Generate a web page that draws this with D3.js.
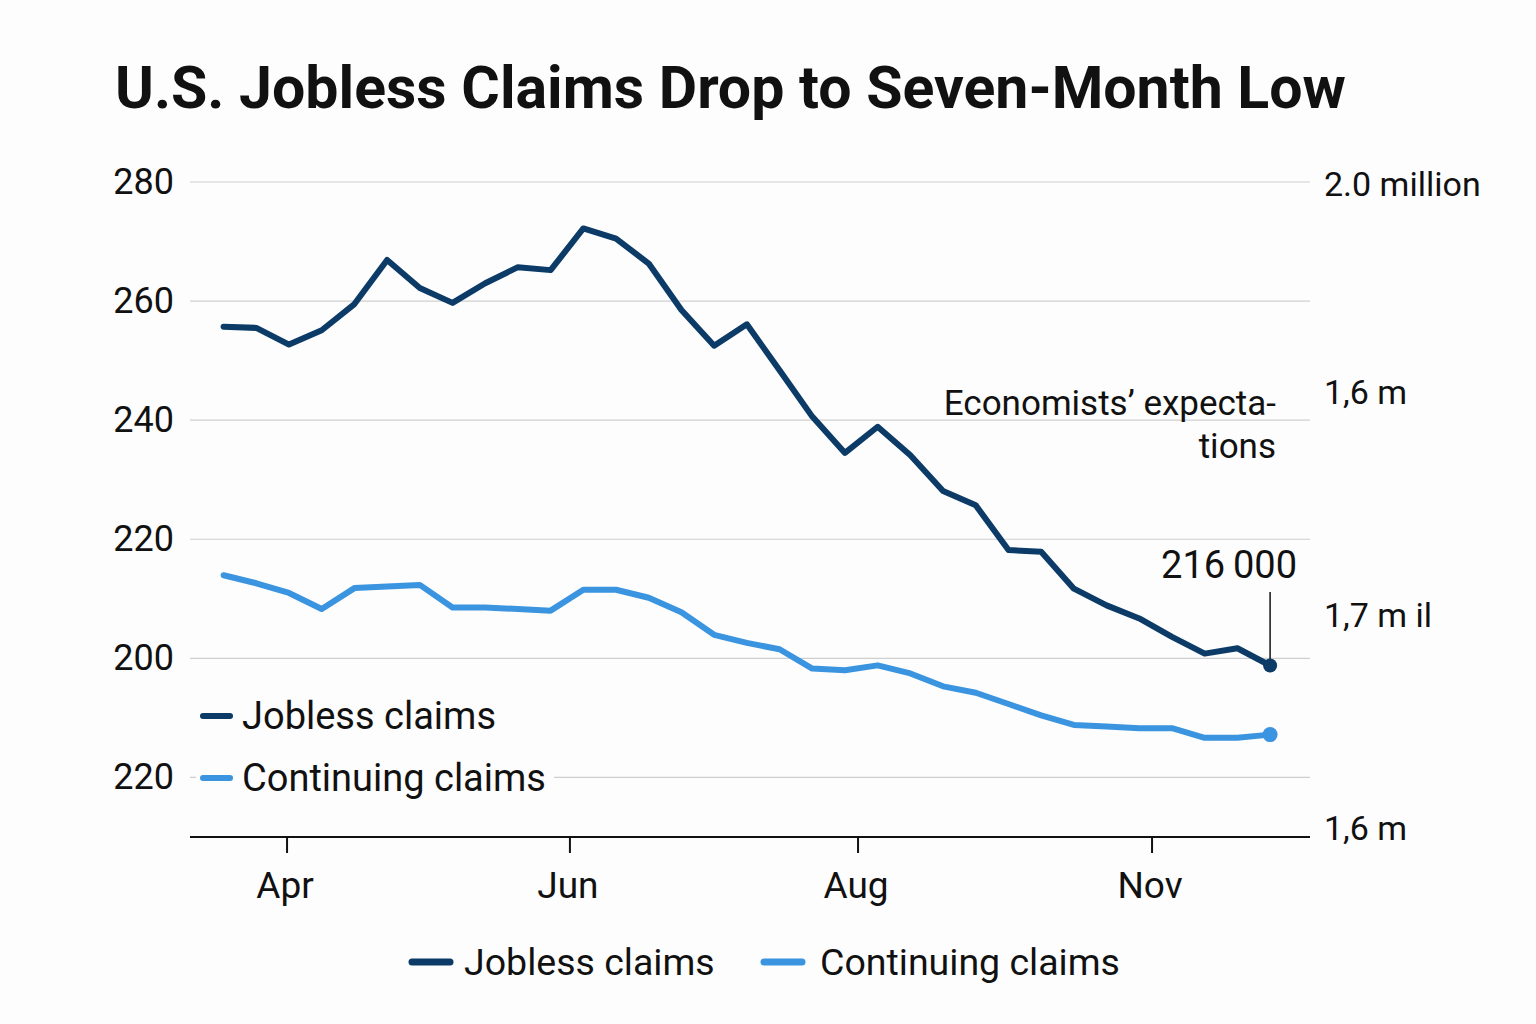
<!DOCTYPE html>
<html>
<head>
<meta charset="utf-8">
<script src="https://cdn.jsdelivr.net/npm/d3@7"></script>
<style>
  body { margin: 0; background: #fdfdfd; }
  svg text { font-family: Roboto, "Noto Sans", sans-serif; fill: #111; }
</style>
</head>
<body>
<div id="chart"></div>
<script>
// weekly jobless claims (thousands) and continuing claims (millions)
const jobless = [255.7, 255.5, 252.7, 255.1, 259.5, 266.9, 262.2, 259.7, 263.0, 265.7, 265.2,
                 272.2, 270.5, 266.3, 258.5, 252.5, 256.1, 248.4, 240.6, 234.5, 238.9, 234.1,
                 228.1, 225.7, 218.2, 217.9, 211.7, 208.9, 206.7, 203.6, 200.8, 201.7, 198.8];
const continuing = [1.757, 1.752, 1.746, 1.736, 1.749, 1.750, 1.751, 1.737, 1.737, 1.736, 1.735,
                    1.748, 1.748, 1.743, 1.734, 1.720, 1.715, 1.711, 1.699, 1.698, 1.701, 1.696,
                    1.688, 1.684, 1.677, 1.670, 1.664, 1.663, 1.662, 1.662, 1.656, 1.656, 1.658];
const weeks = d3.range(jobless.length);

// month ticks, in week units
const monthTicks = [1.94, 10.59, 19.4, 28.39];
const monthLabels = ["Apr", "Jun", "Aug", "Nov"];

const leftTicks = [280, 260, 240, 220, 200, 180];
const leftLabels = ["280", "260", "240", "220", "200", "220"];
const rightTicks = [2.0, 1.871, 1.732, 1.6];
const rightLabels = ["2.0 million", "1,6 m", "1,7 m il", "1,6 m"];

const seriesNames = ["Jobless claims", "Continuing claims"];
const navy = "#0b3b66", sky = "#3b94e0";

const width = 1536, height = 1024;
const plotLeft = 190, plotRight = 1310;

const $svg = d3.select("#chart").append("svg")
    .attr("width", width)
    .attr("height", height);

$svg.append("rect").attr("width", width).attr("height", height).attr("fill", "#fdfdfd");

const x = d3.scaleLinear().domain([0, weeks.length - 1]).range([223.6, 1270.1]);
const yLeft = d3.scaleLinear().domain([170, 280]).range([837, 182]);
const yRight = d3.scaleLinear().domain([1.6, 2.0]).range([828, 184]);

// title
$svg.append("text")
    .attr("x", 115).attr("y", 108)
    .attr("font-size", 59)
    .attr("font-weight", "bold")
    .text("U.S. Jobless Claims Drop to Seven-Month Low");

// gridlines
$svg.append("g")
    .selectAll("line")
    .data(leftTicks)
    .join("line")
    .attr("x1", plotLeft).attr("x2", plotRight)
    .attr("y1", d => yLeft(d)).attr("y2", d => yLeft(d))
    .attr("stroke", "#cfcfcf")
    .attr("stroke-width", 1.2);

// left axis labels
$svg.append("g")
    .selectAll("text")
    .data(leftTicks)
    .join("text")
    .attr("x", 174)
    .attr("y", d => yLeft(d))
    .attr("text-anchor", "end")
    .attr("dominant-baseline", "central")
    .attr("font-size", 36)
    .text((d, i) => leftLabels[i]);

// right axis labels
$svg.append("g")
    .selectAll("text")
    .data(rightTicks)
    .join("text")
    .attr("x", 1324)
    .attr("y", d => yRight(d))
    .attr("dominant-baseline", "central")
    .attr("font-size", 34)
    .text((d, i) => rightLabels[i]);

// bottom axis
const xAxis = $svg.append("g").attr("transform", "translate(0,837)");
xAxis.append("line")
    .attr("x1", plotLeft).attr("x2", plotRight)
    .attr("stroke", "#111").attr("stroke-width", 2);
xAxis.selectAll(".tick")
    .data(monthTicks)
    .join("line")
    .attr("x1", d => x(d)).attr("x2", d => x(d))
    .attr("y1", 0).attr("y2", 16)
    .attr("stroke", "#111").attr("stroke-width", 2);
xAxis.selectAll("text")
    .data(monthTicks)
    .join("text")
    .attr("x", d => x(d) - 2)
    .attr("y", 61)
    .attr("text-anchor", "middle")
    .attr("font-size", 37)
    .text((d, i) => monthLabels[i]);

// lines
const jobLine = d3.line().x((d, i) => x(i)).y(d => yLeft(d));
const contLine = d3.line().x((d, i) => x(i)).y(d => yRight(d));

$svg.append("path")
    .datum(continuing)
    .attr("d", contLine)
    .attr("fill", "none")
    .attr("stroke", sky)
    .attr("stroke-width", 6)
    .attr("stroke-linejoin", "round")
    .attr("stroke-linecap", "round");

$svg.append("path")
    .datum(jobless)
    .attr("d", jobLine)
    .attr("fill", "none")
    .attr("stroke", navy)
    .attr("stroke-width", 6)
    .attr("stroke-linejoin", "round")
    .attr("stroke-linecap", "round");

const last = weeks.length - 1;

// annotation for the latest value
$svg.append("line")
    .attr("x1", x(last)).attr("x2", x(last))
    .attr("y1", 592).attr("y2", yLeft(jobless[last]))
    .attr("stroke", "#111").attr("stroke-width", 1.5);

$svg.append("circle")
    .attr("cx", x(last)).attr("cy", yLeft(jobless[last]))
    .attr("r", 7).attr("fill", navy);
$svg.append("circle")
    .attr("cx", x(last)).attr("cy", yRight(continuing[last]))
    .attr("r", 7.5).attr("fill", sky);

$svg.append("text")
    .attr("x", 1297).attr("y", 578)
    .attr("text-anchor", "end")
    .attr("font-size", 38)
    .text("216\u2009000");

const note = $svg.append("text")
    .attr("text-anchor", "end")
    .attr("font-size", 35);
note.append("tspan").attr("x", 1276).attr("y", 415).text("Economists\u2019 expecta-");
note.append("tspan").attr("x", 1276).attr("y", 458).text("tions");

// legend inside the plot
const colors = [navy, sky];
const inLegend = $svg.append("g");
inLegend.selectAll("rect.bg")
    .data(seriesNames)
    .join("rect")
    .attr("class", "bg")
    .attr("x", 196).attr("y", (d, i) => 694 + i * 62)
    .attr("width", 358).attr("height", 44)
    .attr("fill", "#fdfdfd");
inLegend.selectAll("line")
    .data(seriesNames)
    .join("line")
    .attr("x1", 203).attr("x2", 230)
    .attr("y1", (d, i) => 716 + i * 62).attr("y2", (d, i) => 716 + i * 62)
    .attr("stroke", (d, i) => colors[i])
    .attr("stroke-width", 6)
    .attr("stroke-linecap", "round");
inLegend.selectAll("text")
    .data(seriesNames)
    .join("text")
    .attr("x", 242).attr("y", (d, i) => 716 + i * 62)
    .attr("dominant-baseline", "central")
    .attr("font-size", 38)
    .text(d => d);

// bottom legend
const legendX = [412, 764], legendText = [464, 820];
const botLegend = $svg.append("g");
botLegend.selectAll("line")
    .data(seriesNames)
    .join("line")
    .attr("x1", (d, i) => legendX[i]).attr("x2", (d, i) => legendX[i] + 38)
    .attr("y1", 962).attr("y2", 962)
    .attr("stroke", (d, i) => colors[i])
    .attr("stroke-width", 7)
    .attr("stroke-linecap", "round");
botLegend.selectAll("text")
    .data(seriesNames)
    .join("text")
    .attr("x", (d, i) => legendText[i]).attr("y", 962)
    .attr("dominant-baseline", "central")
    .attr("font-size", 37.5)
    .text(d => d);
</script>
</body>
</html>
